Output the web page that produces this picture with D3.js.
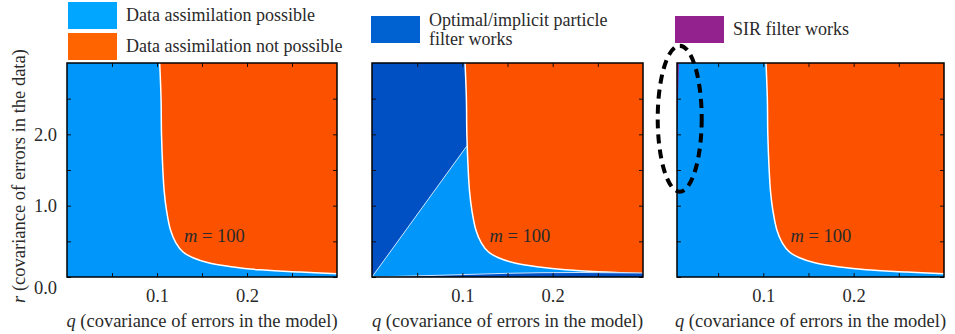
<!DOCTYPE html>
<html>
<head>
<meta charset="utf-8">
<script src="https://cdn.jsdelivr.net/npm/d3@7"></script>
<style>
  body { margin: 0; background: #fff; }
  svg text { font-family: "Liberation Serif", "Times New Roman", Times, "DejaVu Serif", serif; fill: #2a2a2a; }
</style>
</head>
<body>
<svg width="955" height="334"></svg>
<script>
// tick values
var qMinor = [0.05, 0.1, 0.15, 0.2, 0.25],
    qLabels = [0.1, 0.2],
    rMinor = [0, 0.5, 1, 1.5, 2, 2.5],
    rLabels = [0, 1, 2];

// white curve between "possible" and "not possible" (q, r)
var boundary = [
  [0.103, 3.0], [0.1045, 2.5], [0.105, 2.0], [0.1065, 1.5], [0.108, 1.2],
  [0.1105, 0.94], [0.115, 0.66], [0.121, 0.48], [0.129, 0.35], [0.14, 0.27],
  [0.157, 0.20], [0.185, 0.14], [0.214, 0.10], [0.259, 0.07], [0.3, 0.045]
];

// panel 2: optimal/implicit particle filter region
var optimalDiag = [[0, 0], [0.1052, 1.84]];
var optimalBottom = [[0, 0], [0.074, 0.024], [0.148, 0.051], [0.186, 0.06], [0.23, 0.063], [0.3, 0.056]];

// panel 3: SIR filter sliver along the left edge
var sirEdge = [[0.0066, 3.0], [0.0056, 2.5], [0.0045, 2.05]];

var legendItems = [
  { lines: ['Data assimilation possible'], color: '#00a6ff', x: 68, y: 2 },
  { lines: ['Data assimilation not possible'], color: '#ff6400', x: 68, y: 33 },
  { lines: ['Optimal/implicit particle', 'filter works'], color: '#0062d0', x: 371, y: 16 },
  { lines: ['SIR filter works'], color: '#93228f', x: 675, y: 16 }
];

var colBlue = '#0096fa', colOrange = '#fc5200', colDark = '#0050c4', colPurple = '#93228f';

var svg = d3.select('svg');
var top_ = 63, bottom = 277;

var panels = [
  { left: 67, right: 337, q0: 0 },
  { left: 372, right: 643, q0: 0 },
  { left: 677, right: 944, q0: 0.0045 }
];

var y = d3.scaleLinear().domain([0, 3]).range([bottom, top_]);

panels.forEach((p, i) => {
  var x = d3.scaleLinear().domain([p.q0, 0.3]).range([p.left, p.right]);
  var g = svg.append('g');
  var line = d3.line().x(d => x(d[0])).y(d => y(d[1]));
  var smooth = d3.line().x(d => x(d[0])).y(d => y(d[1])).curve(d3.curveCatmullRom.alpha(0.5));

  g.append('rect')
    .attr('x', p.left).attr('y', top_)
    .attr('width', p.right - p.left).attr('height', bottom - top_)
    .attr('fill', colBlue);

  if (i == 1) {
    var pts = optimalDiag.concat(boundary.filter(d => d[1] > optimalDiag[1][1]).reverse(), [[0, 3]]);
    g.append('path').attr('d', line(pts) + 'Z').attr('fill', colDark);
  }

  // not possible region
  g.append('path')
    .attr('d', smooth(boundary) + 'L' + x(0.3) + ',' + y(3) + 'Z')
    .attr('fill', colOrange);
  g.append('path')
    .attr('d', smooth(boundary))
    .attr('fill', 'none').attr('stroke', '#fff').attr('stroke-width', 1.5);

  if (i == 1) {
    g.append('path')
      .attr('d', line(optimalBottom) + 'L' + x(0.3) + ',' + y(0) + 'Z')
      .attr('fill', colDark);
    g.append('path').attr('d', line(optimalBottom))
      .attr('fill', 'none').attr('stroke', '#cfe6ff').attr('stroke-width', 1);
    g.append('path').attr('d', line(optimalDiag))
      .attr('fill', 'none').attr('stroke', '#cfe6ff').attr('stroke-width', 1);
  }

  if (i == 2) {
    g.append('path')
      .attr('d', line([[p.q0, 3]].concat(sirEdge)) + 'Z')
      .attr('fill', colPurple);
  }

  // ticks, inward on all sides
  var fmt = d => qLabels.includes(d) ? d3.format('.1f')(d) : '';
  g.append('g').attr('transform', 'translate(0,' + bottom + ')')
    .call(d3.axisBottom(x).tickValues(qMinor).tickSize(-4).tickPadding(12).tickFormat(fmt));
  g.append('g').attr('transform', 'translate(0,' + top_ + ')')
    .call(d3.axisTop(x).tickValues(qMinor).tickSize(-4).tickFormat(''));
  var yl = g.append('g').attr('transform', 'translate(' + p.left + ',0)')
    .call(d3.axisLeft(y).tickValues(rMinor).tickSize(-4).tickPadding(10)
      .tickFormat(d => (i == 0 && rLabels.includes(d)) ? d3.format('.1f')(d) : ''));
  g.append('g').attr('transform', 'translate(' + p.right + ',0)')
    .call(d3.axisRight(y).tickValues(rMinor).tickSize(-4).tickFormat(''));

  g.selectAll('.domain').remove();
  g.selectAll('g').attr('font-family', null);
  g.selectAll('.tick line').attr('stroke', '#111').attr('stroke-width', 1);
  g.selectAll('.tick text').style('font-size', '18.5px').attr('fill', '#2a2a2a');
  yl.selectAll('.tick').filter(d => d == 0).select('text').attr('dy', '0.9em');

  g.append('rect')
    .attr('x', p.left).attr('y', top_)
    .attr('width', p.right - p.left).attr('height', bottom - top_)
    .attr('fill', 'none').attr('stroke', '#000').attr('stroke-width', 1.5);

  var mt = g.append('text')
    .attr('x', x(0.13)).attr('y', y(0.49))
    .style('font-size', '18.5px');
  mt.append('tspan').style('font-style', 'italic').text('m');
  mt.append('tspan').text(' = 100');

  var xt = g.append('text')
    .attr('x', (p.left + p.right) / 2).attr('y', 327)
    .attr('text-anchor', 'middle').style('font-size', '18.5px');
  xt.append('tspan').style('font-style', 'italic').text('q');
  xt.append('tspan').text(' (covariance of errors in the model)');
});

// y axis title
var yt = svg.append('text')
  .attr('transform', 'translate(25,176) rotate(-90)')
  .attr('text-anchor', 'middle').style('font-size', '18.5px');
yt.append('tspan').style('font-style', 'italic').text('r');
yt.append('tspan').text(' (covariance of errors in the data)');

// legend
var leg = svg.selectAll('.leg').data(legendItems).enter().append('g');
leg.append('rect')
  .attr('x', d => d.x).attr('y', d => d.y)
  .attr('width', 49).attr('height', 27)
  .attr('fill', d => d.color);
leg.each(function (d) {
  var t = d3.select(this).append('text').style('font-size', '18px');
  d.lines.forEach((s, k) => {
    t.append('tspan')
      .attr('x', d.x + 58)
      .attr('y', d.lines.length > 1 ? d.y + 10 + k * 19 : d.y + 19)
      .text(s);
  });
});

// dashed ellipse marking the SIR region
var x3 = d3.scaleLinear().domain([panels[2].q0, 0.3]).range([panels[2].left, panels[2].right]);
svg.append('ellipse')
  .attr('cx', x3(0.0075)).attr('cy', y(2.22))
  .attr('rx', 22).attr('ry', 73)
  .attr('fill', 'none').attr('stroke', '#000')
  .attr('stroke-width', 4).attr('stroke-dasharray', '9,6');
</script>
</body>
</html>
